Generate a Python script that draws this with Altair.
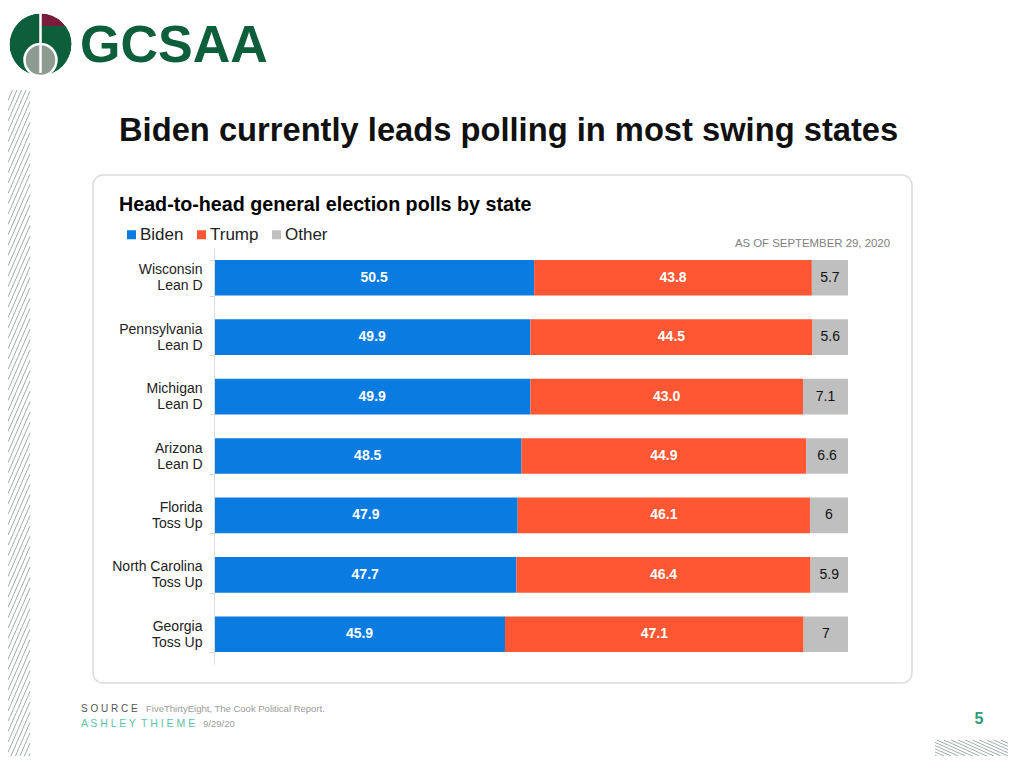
import altair as alt
import pandas as pd

# ---------------- data ----------------
states = ["Wisconsin", "Pennsylvania", "Michigan", "Arizona", "Florida", "North Carolina", "Georgia"]
ratings = ["Lean D", "Lean D", "Lean D", "Lean D", "Toss Up", "Toss Up", "Toss Up"]
parties = ["Biden", "Trump", "Other"]
party_colors = ["#0a7be0", "#ff5733", "#bfbfbf"]
biden = [50.5, 49.9, 49.9, 48.5, 47.9, 47.7, 45.9]
trump = [43.8, 44.5, 43.0, 44.9, 46.1, 46.4, 47.1]
other = [5.7, 5.6, 7.1, 6.6, 6, 5.9, 7]

rows = []
for i, (s, r) in enumerate(zip(states, ratings)):
    lab = f"{s}|{r}"
    for j, (p, vals) in enumerate(zip(parties, [biden, trump, other])):
        v = vals[i]
        t = f"{v:g}" if p == "Other" else f"{v:.1f}"
        rows.append({"label": lab, "party": p, "ord": j, "value": v, "txt": t})
df = pd.DataFrame(rows)
row_order = [f"{s}|{r}" for s, r in zip(states, ratings)]

# plot origin in page coordinates (8px page margin + padding)
OX, OY = 214, 248
FONT = "Liberation Sans"


def px(x):
    return x - OX


def py(y):
    return y - OY


one = pd.DataFrame({"t": [""]})


def txt(s, x, y, size, color, weight="normal", align="left", baseline="alphabetic"):
    return alt.Chart(pd.DataFrame({"t": [s]})).mark_text(
        align=align, baseline=baseline, font=FONT, fontSize=size,
        fontWeight=weight, color=color
    ).encode(text="t:N", x=alt.value(px(x)), y=alt.value(py(y)))


# ---------------- card background ----------------
card = alt.Chart(one).mark_rect(
    cornerRadius=10, fill="white", stroke="#dcdcdc", strokeWidth=1.5
).encode(x=alt.value(px(93)), x2=alt.value(px(912)), y=alt.value(py(175)), y2=alt.value(py(683)))

# ---------------- hatching decorations ----------------
L1, W1, T1, B1, K1, D1 = px(8), 22, py(90), py(756), 2.3, 10.35
left_hatch = alt.Chart(alt.sequence(0, 72, as_="i")).transform_calculate(
    c=f"{T1} + datum.i * {D1}"
).transform_calculate(
    hx1=f"{L1} + max(0, (datum.c - ({B1})) / {K1})",
    hy1=f"min(datum.c, {B1})",
    hx2=f"{L1} + min({W1}, (datum.c - ({T1})) / {K1})",
    hy2=f"max(datum.c - {K1 * W1}, {T1})",
).transform_filter("datum.hx1 < datum.hx2").mark_rule(color="#a3abab", strokeWidth=1).encode(
    x=alt.X("hx1:Q", scale=None, axis=None), x2="hx2:Q",
    y=alt.Y("hy1:Q", scale=None, axis=None), y2="hy2:Q",
)

L2, W2, T2, B2, K2, D2 = px(935), 73, py(740), py(756), 0.45, 3.2
right_hatch = alt.Chart(alt.sequence(0, 17, as_="i")).transform_calculate(
    c=f"{T2 - K2 * W2} + datum.i * {D2}"
).transform_calculate(
    hx1=f"{L2} + max(0, ({T2} - datum.c) / {K2})",
    hy1=f"max(datum.c, {T2})",
    hx2=f"{L2} + min({W2}, ({B2} - datum.c) / {K2})",
    hy2=f"min(datum.c + {K2 * W2}, {B2})",
).transform_filter("datum.hx1 < datum.hx2").mark_rule(color="#a3abab", strokeWidth=1).encode(
    x=alt.X("hx1:Q", scale=None, axis=None), x2="hx2:Q",
    y=alt.Y("hy1:Q", scale=None, axis=None), y2="hy2:Q",
)

# ---------------- logo ----------------
GREEN = "#0d5e3b"
cx, cy, R = 40.5, 44.5, 31
logo_green = alt.Chart(one).mark_point(
    shape="circle", filled=True, color=GREEN, opacity=1, size=(2 * R) ** 2
).encode(x=alt.value(px(cx)), y=alt.value(py(cy)))
logo_maroon = alt.Chart(one).mark_arc(
    radius=R, theta=0, theta2=1.5708, color="#7a1c3c"
).encode(x=alt.value(px(cx)), y=alt.value(py(cy)))
logo_green_rect = alt.Chart(one).mark_rect(color=GREEN).encode(
    x=alt.value(px(41)), x2=alt.value(px(72)), y=alt.value(py(26)), y2=alt.value(py(45))
)
logo_ring = alt.Chart(one).mark_point(
    shape="circle", filled=False, stroke="white", strokeWidth=6, opacity=1, size=(2 * 34) ** 2
).encode(x=alt.value(px(cx)), y=alt.value(py(cy)))
logo_gray = alt.Chart(one).mark_point(
    shape="circle", filled=True, fill="#8e9b91", stroke="white", strokeWidth=2.5,
    opacity=1, fillOpacity=1, size=(2 * 16) ** 2
).encode(x=alt.value(px(40.5)), y=alt.value(py(60)))
logo_line = alt.Chart(one).mark_rule(color="white", strokeWidth=2.5).encode(
    x=alt.value(px(40.5)), y=alt.value(py(13)), y2=alt.value(py(73))
)
logo_text = txt("GCSAA", 80, 62, 52, GREEN, weight="bold")

# ---------------- titles & footers ----------------
SP = "\u2002"
title = txt("Biden currently leads polling in most swing states", 119, 141, 32.7, "#111111", weight="bold")
subtitle = txt("Head-to-head general election polls by state", 119, 211, 19.7, "#000000", weight=900)
asof = txt("AS OF SEPTEMBER 29, 2020", 890, 247, 11.4, "#808080", align="right")
src1 = txt("S O U R C E", 81, 712, 10, "#555555")
src2 = txt("FiveThirtyEight, The Cook Political Report.", 146, 712, 9.5, "#9a9a9a")
auth1 = txt(f"A S H L E Y{SP}T H I E M E", 81, 727, 10.5, "#5bc3a5")
auth2 = txt("9/29/20", 203, 727, 9.5, "#9a9a9a")
pageno = txt("5", 979, 719, 16, "#2e9c79", weight="bold", align="center", baseline="middle")

# ---------------- bars ----------------
ysc = alt.Scale(domain=row_order, paddingInner=0.4, paddingOuter=0.2)
yenc = alt.Y(
    "label:N", sort=row_order, scale=ysc, title=None,
    axis=alt.Axis(
        labelExpr="split(datum.label, '|')", labelFont=FONT, labelFontSize=14,
        labelColor="#222222", labelLineHeight=16, labelPadding=7, labelOffset=-8, tickSize=5,
        tickBand="extent", domainColor="#d9d9d9", tickColor="#d9d9d9", zindex=1,
    ),
)
xsc = alt.Scale(domain=[0, 100], nice=False, zero=True)

base = alt.Chart(df).transform_stack(
    stack="value", as_=["x0", "x1"], groupby=["label"], sort=[alt.SortField("ord", order="ascending")]
).transform_calculate(mid="(datum.x0 + datum.x1) / 2")

bars = base.mark_bar().encode(
    x=alt.X("x0:Q", scale=xsc, axis=None),
    x2="x1:Q",
    y=yenc,
    color=alt.Color(
        "party:N",
        scale=alt.Scale(domain=parties, range=party_colors),
        legend=alt.Legend(
            title=None, orient="none", legendX=-91, legendY=-22, direction="horizontal",
            symbolType="square", symbolSize=81, symbolStrokeWidth=0, labelFont=FONT,
            labelFontSize=17, labelColor="#222222", labelOffset=0, columnPadding=9, padding=0,
        ),
    ),
)

ytext = alt.Y("label:N", sort=row_order, scale=ysc, axis=None)

lab_white = base.transform_filter("datum.party != 'Other'").mark_text(
    font=FONT, fontSize=14, fontWeight="bold", color="white", baseline="middle"
).encode(x=alt.X("mid:Q", scale=xsc, axis=None), y=ytext, text="txt:N")

lab_dark = base.transform_filter("datum.party == 'Other'").mark_text(
    font=FONT, fontSize=14, color="#111111", baseline="middle"
).encode(x=alt.X("mid:Q", scale=xsc, axis=None), y=ytext, text="txt:N")

chart = alt.layer(
    card, left_hatch, right_hatch,
    logo_green, logo_maroon, logo_green_rect, logo_ring, logo_gray, logo_line, logo_text,
    title, subtitle, asof, src1, src2, auth1, auth2, pageno,
    bars, lab_white, lab_dark,
).resolve_scale(
    x="independent", y="independent"
).properties(
    width=634, height=416,
    padding={"left": 206, "top": 240, "right": 160, "bottom": 92},
    autosize=alt.AutoSizeParams(type="none"),
    background="white",
).configure_view(stroke=None)

chart.save("out.html", embed_options={"renderer": "svg", "actions": False})
